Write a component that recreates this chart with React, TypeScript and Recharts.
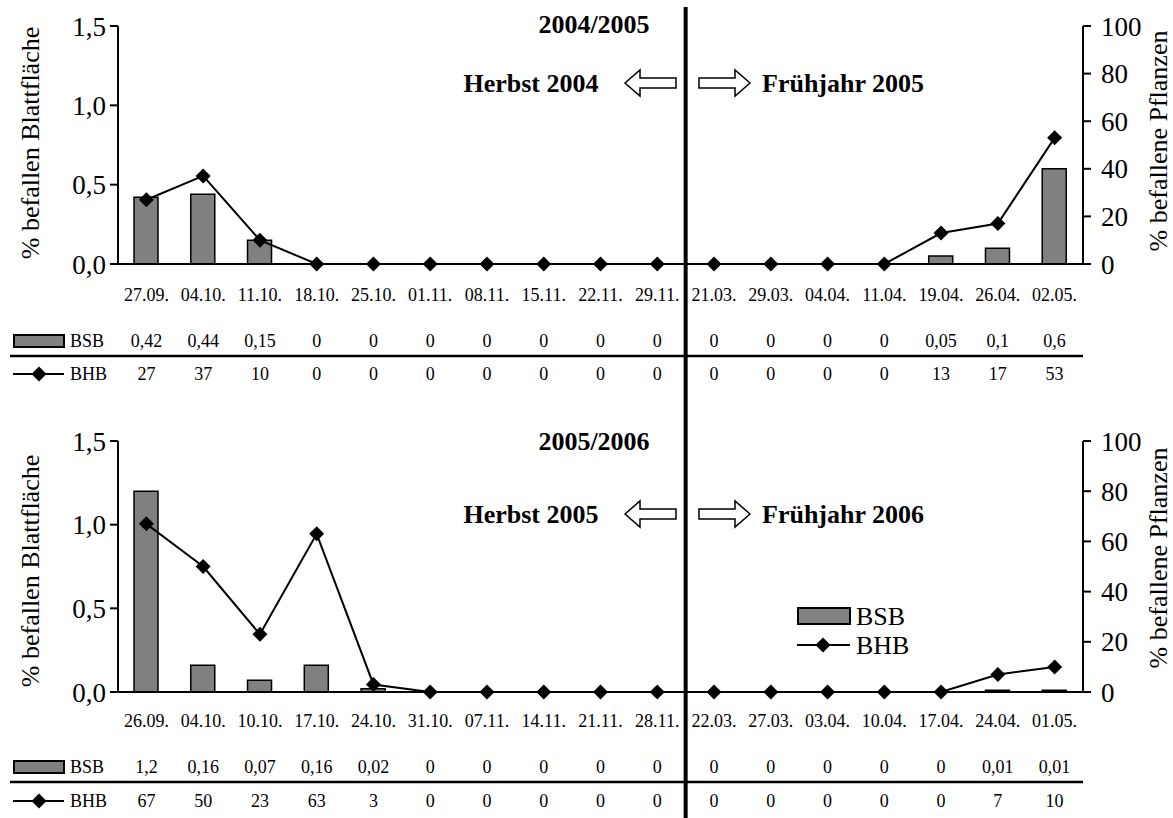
import React from 'react';
import { ComposedChart, Bar, Line, XAxis, YAxis, ReferenceLine } from 'recharts';

// ---- Data ----
const dates0405 = ['27.09.', '04.10.', '11.10.', '18.10.', '25.10.', '01.11.', '08.11.', '15.11.', '22.11.', '29.11.', '21.03.', '29.03.', '04.04.', '11.04.', '19.04.', '26.04.', '02.05.'];
const bsb0405 = [0.42, 0.44, 0.15, 0, 0, 0, 0, 0, 0, 0, 0, 0, 0, 0, 0.05, 0.1, 0.6];
const bhb0405 = [27, 37, 10, 0, 0, 0, 0, 0, 0, 0, 0, 0, 0, 0, 13, 17, 53];

const dates0506 = ['26.09.', '04.10.', '10.10.', '17.10.', '24.10.', '31.10.', '07.11.', '14.11.', '21.11.', '28.11.', '22.03.', '27.03.', '03.04.', '10.04.', '17.04.', '24.04.', '01.05.'];
const bsb0506 = [1.2, 0.16, 0.07, 0.16, 0.02, 0, 0, 0, 0, 0, 0, 0, 0, 0, 0, 0.01, 0.01];
const bhb0506 = [67, 50, 23, 63, 3, 0, 0, 0, 0, 0, 0, 0, 0, 0, 0, 7, 10];

const leftTicks = [0, 0.5, 1, 1.5];
const rightTicks = [0, 20, 40, 60, 80, 100];
const springStart0405 = '21.03.';
const springStart0506 = '22.03.';

const FONT = '"Liberation Serif", "Times New Roman", Times, serif';
const fmt = (v: number) => String(v).replace('.', ',');

const Diamond = (props: any) => {
  const { cx, cy } = props;
  if (cx == null || cy == null) return null;
  const r = 7.5;
  return <polygon points={`${cx},${cy - r} ${cx + r},${cy} ${cx},${cy + r} ${cx - r},${cy}`} fill="#000" />;
};

const makeTick = (bsb: number[], bhb: number[], offs: number[]) => (props: any) => {
  const { x, y, index, payload } = props;
  const common = { x, textAnchor: 'middle' as const, fill: '#000', fontFamily: FONT, dy: '0.35em' };
  return (
    <g>
      <text {...common} y={y + offs[0]} fontSize={18}>{payload.value}</text>
      <text {...common} y={y + offs[1]} fontSize={18}>{fmt(bsb[index])}</text>
      <text {...common} y={y + offs[2]} fontSize={18}>{String(bhb[index])}</text>
    </g>
  );
};

type PanelProps = {
  dates: string[]; bsb: number[]; bhb: number[]; top: number; height: number;
  marginTop: number; marginBottom: number; offs: number[]; sep: string; sepTop: number;
};

const Panel = ({ dates, bsb, bhb, top, height, marginTop, marginBottom, offs, sep, sepTop }: PanelProps) => {
  const data = dates.map((d, i) => ({ date: d, bsb: bsb[i], bhb: bhb[i] }));
  return (
    <div style={{ position: 'absolute', left: 0, top }}>
      <ComposedChart width={1173} height={height} data={data}
        margin={{ top: marginTop, right: 30, left: 58, bottom: marginBottom }} barCategoryGap={0}>
        <XAxis dataKey="date" interval={0} height={120} tickSize={0} tickMargin={0} tickLine={false}
          axisLine={{ stroke: '#000', strokeWidth: 2 }} tick={makeTick(bsb, bhb, offs)} />
        <YAxis yAxisId="left" domain={[0, 1.5]} ticks={leftTicks} width={60} tickSize={8} tickMargin={4}
          tickFormatter={(v: number) => v.toFixed(1).replace('.', ',')}
          axisLine={{ stroke: '#000', strokeWidth: 2 }} tickLine={{ stroke: '#000', strokeWidth: 2 }}
          tick={{ fontSize: 27, fill: '#000', fontFamily: FONT }} />
        <YAxis yAxisId="right" orientation="right" domain={[0, 100]} ticks={rightTicks} width={60} tickSize={8} tickMargin={10}
          axisLine={{ stroke: '#000', strokeWidth: 2 }} tickLine={{ stroke: '#000', strokeWidth: 2 }}
          tick={{ fontSize: 27, fill: '#000', fontFamily: FONT }} />
        <Bar yAxisId="left" dataKey="bsb" barSize={24} fill="#808080" stroke="#000" strokeWidth={1.5} isAnimationActive={false} />
        <Line yAxisId="right" dataKey="bhb" stroke="#000" strokeWidth={2} dot={<Diamond />} activeDot={false} isAnimationActive={false} />
        <ReferenceLine yAxisId="left" x={sep} position="start"
          shape={(p: any) => <line x1={p.x1} x2={p.x1} y1={sepTop} y2={height} stroke="#000" strokeWidth={4} />} />
      </ComposedChart>
    </div>
  );
};

const Arrow = ({ x1, x2, y, dir }: { x1: number; x2: number; y: number; dir: 'l' | 'r' }) => {
  const hw = 15, hh = 13, sh = 5;
  let pts: string;
  if (dir === 'l') {
    const hx = x1 + hw;
    pts = `${x1},${y} ${hx},${y - hh} ${hx},${y - sh} ${x2},${y - sh} ${x2},${y + sh} ${hx},${y + sh} ${hx},${y + hh}`;
  } else {
    const hx = x2 - hw;
    pts = `${x2},${y} ${hx},${y - hh} ${hx},${y - sh} ${x1},${y - sh} ${x1},${y + sh} ${hx},${y + sh} ${hx},${y + hh}`;
  }
  return <polygon points={pts} fill="#fff" stroke="#000" strokeWidth={1.5} />;
};

const PanelDecor = ({ title, autumn, spring, titleY, seasonY, leftCy, rightCy, tableLineY, bsbRowY, bhbRowY }: any) => (
  <g fontFamily={FONT} fill="#000">
    <text x={594} y={titleY} textAnchor="middle" fontSize={26} fontWeight="bold">{title}</text>
    <text x={531} y={seasonY} textAnchor="middle" fontSize={26} fontWeight="bold" dy="0.35em">{autumn}</text>
    <Arrow x1={625} x2={676} y={seasonY} dir="l" />
    <Arrow x1={699} x2={750} y={seasonY} dir="r" />
    <text x={762} y={seasonY} textAnchor="start" fontSize={26} fontWeight="bold" dy="0.35em">{spring}</text>
    <text x={30} y={leftCy} textAnchor="middle" fontSize={26} dy="0.35em" transform={`rotate(-90, 30, ${leftCy})`}>% befallen Blattfläche</text>
    <text x={1158} y={rightCy} textAnchor="middle" fontSize={26} dy="0.35em" transform={`rotate(-90, 1158, ${rightCy})`}>% befallene Pflanzen</text>
    <line x1={10} x2={1083} y1={tableLineY} y2={tableLineY} stroke="#000" strokeWidth={2.5} />
    <rect x={14} y={bsbRowY - 6} width={50} height={12} fill="#808080" stroke="#000" strokeWidth={2} />
    <text x={70} y={bsbRowY} fontSize={18} dy="0.35em">BSB</text>
    <line x1={13} x2={64} y1={bhbRowY} y2={bhbRowY} stroke="#000" strokeWidth={2} />
    <Diamond cx={39} cy={bhbRowY} />
    <text x={70} y={bhbRowY} fontSize={18} dy="0.35em">BHB</text>
  </g>
);

export default function App() {
  return (
    <div style={{ position: 'absolute', left: 0, top: 0, width: 1173, height: 818, background: '#fff', fontFamily: FONT }}>
      <Panel dates={dates0405} bsb={bsb0405} bhb={bhb0405} top={0} height={400}
        marginTop={26} marginBottom={16} offs={[31, 77, 110]} sep={springStart0405} sepTop={7} />
      <Panel dates={dates0506} bsb={bsb0506} bhb={bhb0506} top={400} height={418}
        marginTop={41} marginBottom={6} offs={[29, 75, 109]} sep={springStart0506} sepTop={0} />
      <svg width={1173} height={818} style={{ position: 'absolute', left: 0, top: 0, pointerEvents: 'none' }}>
        <PanelDecor title="2004/2005" autumn="Herbst 2004" spring="Frühjahr 2005" titleY={33} seasonY={83}
          leftCy={143} rightCy={141} tableLineY={356} bsbRowY={341} bhbRowY={374} />
        <PanelDecor title="2005/2006" autumn="Herbst 2005" spring="Frühjahr 2006" titleY={450} seasonY={514}
          leftCy={571} rightCy={558} tableLineY={782} bsbRowY={767} bhbRowY={801} />
        <g fontFamily={FONT} fill="#000">
          <rect x={798} y={608} width={52} height={16} fill="#808080" stroke="#000" strokeWidth={2} />
          <text x={856} y={616} fontSize={26} dy="0.35em">BSB</text>
          <line x1={797} x2={850} y1={645} y2={645} stroke="#000" strokeWidth={2} />
          <Diamond cx={823} cy={645} />
          <text x={856} y={645} fontSize={26} dy="0.35em">BHB</text>
        </g>
      </svg>
    </div>
  );
}
